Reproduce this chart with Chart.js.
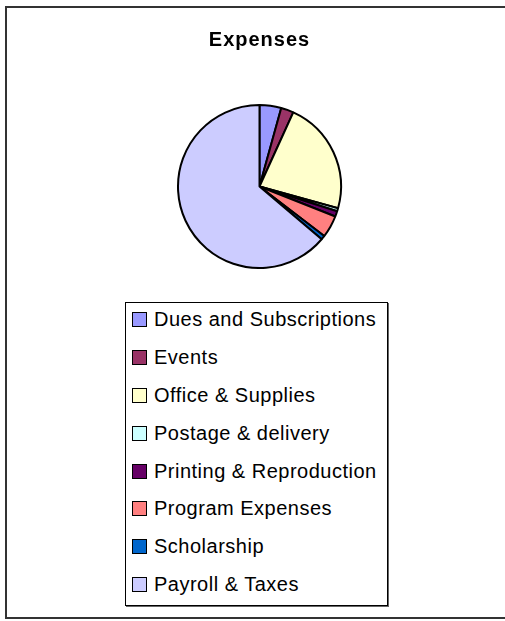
<!DOCTYPE html>
<html>
<head>
<meta charset="utf-8">
<script src="https://cdn.jsdelivr.net/npm/chart.js@4"></script>
<style>
    body { margin: 0; background: #fff; font-family: 'Liberation Sans', Arial, sans-serif; }
    #frame { position: absolute; left: 5px; top: 6px; width: 520px; height: 609px; border: 2px solid #333; }
    #chartBox { position: absolute; left: 0; top: 0; width: 505px; height: 269px; }
    #legend { position: absolute; left: 125px; top: 302px; width: 261px; height: 302px;
              border: 1px solid #000; box-shadow: 1px 1px 0 #666; background: #fff; }
    #legend .list { margin-top: -2px; }
    .item { height: 37.8px; display: flex; align-items: center; font-size: 20px; letter-spacing: 0.5px; color: #000; white-space: nowrap; }
    .swatch { width: 13px; height: 13px; border: 1px solid #000; margin-left: 6px; margin-right: 7px; flex: none; }
</style>
</head>
<body>
<div id="frame"></div>
<div id="chartBox"><canvas id="pie"></canvas></div>
<div id="legend"><div class="list" id="legendList"></div></div>
<script>
// Datos (porcentaje aproximado de cada gasto)
const categorias = ['Dues and Subscriptions', 'Events', 'Office & Supplies', 'Postage & delivery',
    'Printing & Reproduction', 'Program Expenses', 'Scholarship', 'Payroll & Taxes'];
const valores = [4.3, 2.5, 22.5, 0.6, 1.1, 4.4, 0.8, 63.8];
const colores = ['#9999FF', '#993366', '#FFFFCC', '#CCFFFF', '#660066', '#FF8080', '#0066CC', '#CCCCFF'];

// Espaciado de letras en el canvas para parecerse al título original
const letterSpacingPlugin = {
    id: 'letterSpacing',
    beforeDraw: function(chart) {
        chart.ctx.letterSpacing = '1px';
    }
};

const chart = new Chart(document.getElementById('pie'), {
    type: 'pie',
    data: {
        labels: categorias,
        datasets: [{
            data: valores,
            backgroundColor: colores,
            borderColor: '#000',
            borderWidth: 2
        }]
    },
    options: {
        responsive: true,
        maintainAspectRatio: false,
        animation: false,
        layout: { padding: { left: 14 } },
        plugins: {
            legend: { display: false },
            tooltip: { enabled: false },
            title: {
                display: true,
                text: 'Expenses',
                color: '#000',
                font: { family: "'Liberation Sans', Arial, sans-serif", size: 20, weight: 'bold', lineHeight: 1.2 },
                padding: { top: 28, bottom: 52 }
            }
        }
    },
    plugins: [letterSpacingPlugin]
});

// Leyenda en HTML con caja, construida desde los mismos arrays
const legendList = document.getElementById('legendList');
categorias.forEach(function(label, i) {
    const row = document.createElement('div');
    row.className = 'item';
    const sw = document.createElement('span');
    sw.className = 'swatch';
    sw.style.background = colores[i];
    const txt = document.createElement('span');
    txt.textContent = label;
    row.appendChild(sw);
    row.appendChild(txt);
    legendList.appendChild(row);
});
</script>
</body>
</html>
